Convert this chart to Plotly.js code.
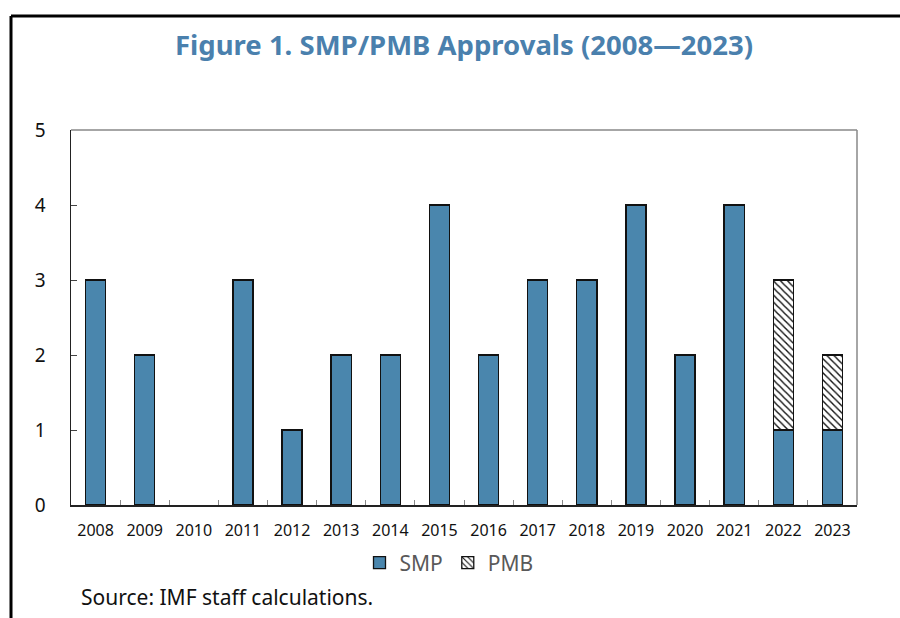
<!DOCTYPE html>
<html>
<head>
<meta charset="utf-8">
<script src="https://cdn.plot.ly/plotly-3.0.1.min.js"></script>
<style>html,body{margin:0;padding:0;background:#fff;}#chart{width:900px;height:618px;}</style>
</head>
<body>
<div id="chart"></div>
<script>
const years = ["2008","2009","2010","2011","2012","2013","2014","2015","2016","2017","2018","2019","2020","2021","2022","2023"];
const smp = [3,2,0,3,1,2,2,4,2,3,3,4,2,4,1,1];
const pmb = [0,0,0,0,0,0,0,0,0,0,0,0,0,0,2,1];
const yTicks = [0,1,2,3,4,5];
const titleText = "Figure 1. SMP/PMB Approvals (2008\u20142023)";
const sourceText = "Source: IMF staff calculations.";

const L = 71, R = 857, T = 130, B = 505, W = 900, H = 618;
const pw = R - L, ph = B - T;
const px = x => (x - L) / pw;
const py = y => (B - y) / ph;
const nz = arr => arr.map(v => (v === 0 ? null : v));

const traces = [
  {type: "bar", name: "SMP", x: years, y: nz(smp),
   marker: {color: "#4a86ad", line: {color: "#111", width: 1.3}}},
  {type: "bar", name: "PMB", x: years, y: nz(pmb),
   marker: {color: "#ffffff", line: {color: "#111", width: 1.3},
            pattern: {shape: "\\", fgcolor: "#111", bgcolor: "#ffffff", size: 5, solidity: 0.28}}}
];

const layout = {
  width: W, height: H,
  margin: {l: L, r: W - R, t: T, b: H - B},
  paper_bgcolor: "#fff", plot_bgcolor: "#fff",
  barmode: "stack", bargap: 0.59,
  font: {family: "Noto Sans, Open Sans, sans-serif", color: "#111"},
  title: {text: "<b>" + titleText + "</b>", x: 0.5, xref: "paper", xanchor: "center",
          y: 1 - 45 / H, yanchor: "middle", font: {size: 27.5, color: "#4a80ad"}},
  xaxis: {type: "category", tickson: "boundaries", ticks: "inside", ticklen: 5, tickcolor: "#888",
          showline: true, linecolor: "#222", linewidth: 1.5, showgrid: false,
          tickfont: {size: 16, color: "#111"}, ticklabelstandoff: 10, fixedrange: true},
  yaxis: {range: [0, 5], tickvals: yTicks, ticks: "inside", ticklen: 6, tickcolor: "#444",
          showline: true, linecolor: "#222", linewidth: 1.5, showgrid: false, zeroline: false,
          tickfont: {size: 19, color: "#111"}, ticklabelstandoff: 20, fixedrange: true},
  legend: {orientation: "h", x: px(449), xanchor: "center", y: py(563), yanchor: "middle",
           font: {size: 21, color: "#595959"}, itemwidth: 30, traceorder: "normal"},
  showlegend: true,
  shapes: [
    {type: "line", xref: "paper", yref: "paper", x0: 0, x1: 1, y0: 1, y1: 1, line: {color: "#888", width: 1.5}},
    {type: "line", xref: "paper", yref: "paper", x0: 1, x1: 1, y0: 0, y1: 1, line: {color: "#888", width: 1.5}},
    {type: "line", xref: "paper", yref: "paper", x0: px(11), x1: px(W + 5), y0: py(16), y1: py(16), line: {color: "#000", width: 3}},
    {type: "line", xref: "paper", yref: "paper", x0: px(11), x1: px(11), y0: py(16), y1: py(H + 5), line: {color: "#000", width: 3}}
  ],
  annotations: [
    {text: sourceText, xref: "paper", yref: "paper", x: px(79), y: py(597), xanchor: "left", yanchor: "middle",
     showarrow: false, font: {size: 21, color: "#111"}}
  ]
};

Plotly.newPlot("chart", traces, layout, {displayModeBar: false, staticPlot: true});
</script>
</body>
</html>
